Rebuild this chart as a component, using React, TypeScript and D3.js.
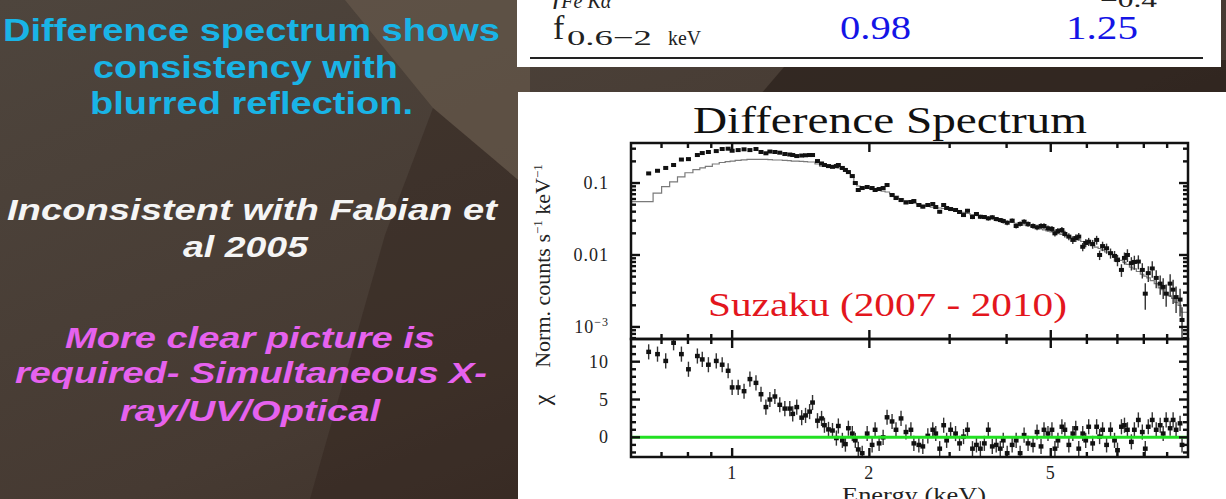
import React from 'react';
import * as d3 from 'd3';

// Difference spectrum (Suzaku 2007 - 2010): energy grid in keV
const energy = [
  0.656, 0.686, 0.715, 0.744, 0.774, 0.802, 0.839, 0.86, 0.887, 0.923,
  0.951, 0.98, 1.0, 1.031, 1.062, 1.094, 1.128, 1.157, 1.186, 1.21,
  1.241, 1.272, 1.305, 1.338, 1.358, 1.386, 1.421, 1.449, 1.479, 1.501,
  1.539, 1.571, 1.594, 1.627, 1.66, 1.693, 1.71, 1.745, 1.772, 1.799,
  1.835, 1.863, 1.891, 1.929, 1.978, 2.028, 2.059, 2.101, 2.144, 2.187,
  2.243, 2.288, 2.347, 2.406, 2.467, 2.504, 2.568, 2.62, 2.687, 2.755,
  2.797, 2.853, 2.911, 2.955, 3.015, 3.091, 3.154, 3.218, 3.283, 3.367,
  3.435, 3.504, 3.575, 3.647, 3.721, 3.796, 3.874, 3.933, 4.012, 4.114,
  4.198, 4.283, 4.37, 4.458, 4.572, 4.665, 4.76, 4.832, 4.93, 5.03,
  5.106, 5.184, 5.289, 5.369, 5.478, 5.589, 5.673, 5.759, 5.876, 5.965,
  6.055, 6.178, 6.304, 6.399, 6.496, 6.628, 6.762, 6.9, 7.004, 7.145,
  7.255, 7.364, 7.513, 7.627, 7.782, 7.939, 8.059, 8.182, 8.348, 8.517,
  8.69, 8.822, 8.956, 9.138, 9.276, 9.416, 9.607, 9.703,
];

// Normalised counts s^-1 keV^-1
const flux = [
  0.136, 0.148, 0.162, 0.178, 0.212, 0.215, 0.245, 0.261, 0.27, 0.278,
  0.297, 0.3, 0.281, 0.287, 0.294, 0.287, 0.297, 0.27, 0.259, 0.274,
  0.27, 0.264, 0.253, 0.249, 0.245, 0.237, 0.241, 0.243, 0.245, 0.245,
  0.202, 0.187, 0.178, 0.172, 0.168, 0.172, 0.178, 0.162, 0.152, 0.142,
  0.125, 0.1, 0.08, 0.0852, 0.088, 0.0852, 0.08, 0.0825, 0.0852, 0.0938,
  0.0681, 0.0619, 0.058, 0.0536, 0.0545, 0.0562, 0.0495, 0.0469, 0.0495, 0.0511,
  0.0464, 0.0399, 0.0495, 0.045, 0.0435, 0.0422, 0.0396, 0.0359, 0.0412, 0.0337,
  0.0371, 0.034, 0.0337, 0.0323, 0.0334, 0.0316, 0.0306, 0.0297, 0.0281, 0.03,
  0.0253, 0.027, 0.029, 0.027, 0.0253, 0.0242, 0.0253, 0.0253, 0.0235, 0.023,
  0.02, 0.0215, 0.0222, 0.0196, 0.018, 0.0162, 0.0172, 0.018, 0.013, 0.0147,
  0.0153, 0.0142, 0.0162, 0.01, 0.0133, 0.0124, 0.0106, 0.0097, 0.0085, 0.0062,
  0.0091, 0.01, 0.0077, 0.008, 0.0081, 0.0062, 0.0029, 0.0056, 0.0065, 0.0048,
  0.004, 0.0036, 0.0029, 0.004, 0.0033, 0.0026, 0.0024, 0.00125,
];

// Fractional 1-sigma errors on the counts
const fluxFracErr = [
  0.02, 0.02, 0.02, 0.02, 0.02, 0.02, 0.02, 0.02, 0.02, 0.02,
  0.02, 0.02, 0.02, 0.02, 0.02, 0.02, 0.02, 0.02, 0.025, 0.025,
  0.025, 0.025, 0.025, 0.025, 0.025, 0.025, 0.025, 0.025, 0.025, 0.025,
  0.03, 0.03, 0.03, 0.03, 0.03, 0.03, 0.03, 0.035, 0.035, 0.035,
  0.035, 0.04, 0.04, 0.04, 0.04, 0.04, 0.04, 0.04, 0.04, 0.04,
  0.045, 0.045, 0.045, 0.045, 0.045, 0.05, 0.05, 0.05, 0.05, 0.05,
  0.05, 0.055, 0.055, 0.055, 0.055, 0.06, 0.06, 0.06, 0.06, 0.065,
  0.065, 0.065, 0.065, 0.07, 0.07, 0.07, 0.07, 0.075, 0.075, 0.075,
  0.08, 0.08, 0.08, 0.085, 0.085, 0.09, 0.09, 0.09, 0.095, 0.095,
  0.1, 0.1, 0.1, 0.11, 0.11, 0.12, 0.12, 0.12, 0.13, 0.13,
  0.13, 0.14, 0.14, 0.15, 0.15, 0.16, 0.16, 0.17, 0.18, 0.2,
  0.19, 0.2, 0.21, 0.22, 0.22, 0.24, 0.4, 0.25, 0.26, 0.28,
  0.3, 0.32, 0.34, 0.35, 0.37, 0.4, 0.42, 0.5,
];

// Folded blurred-reflection model (histogram)
const fluxModel = [
  0.055, 0.0726, 0.0889, 0.104, 0.122, 0.139, 0.154, 0.162, 0.17, 0.184,
  0.193, 0.199, 0.202, 0.207, 0.21, 0.213, 0.213, 0.213, 0.213, 0.211,
  0.209, 0.209, 0.207, 0.2045, 0.202, 0.202, 0.2, 0.198, 0.196, 0.196,
  0.184, 0.171, 0.17, 0.167, 0.164, 0.164, 0.162, 0.156, 0.146, 0.137,
  0.121, 0.103, 0.091, 0.088, 0.085, 0.0825, 0.08, 0.0787, 0.0774, 0.075,
  0.0704, 0.066, 0.061, 0.057, 0.0545, 0.0527, 0.0511, 0.0495, 0.048, 0.0464,
  0.0457, 0.045, 0.0443, 0.0435, 0.0429, 0.0415, 0.0402, 0.039, 0.0377, 0.0365,
  0.0356, 0.0348, 0.034, 0.0332, 0.0323, 0.0316, 0.0306, 0.03, 0.0292, 0.0283,
  0.0276, 0.0268, 0.0261, 0.0253, 0.0245, 0.0237, 0.023, 0.0224, 0.0217, 0.021,
  0.0205, 0.02, 0.0193, 0.0187, 0.018, 0.0172, 0.0167, 0.0162, 0.0154, 0.0148,
  0.0142, 0.0135, 0.0129, 0.0123, 0.0117, 0.011, 0.0103, 0.0097, 0.0091, 0.0084,
  0.0079, 0.0074, 0.0068, 0.0064, 0.0059, 0.0054, 0.0051, 0.0048, 0.0044, 0.004,
  0.0035, 0.0033, 0.003, 0.0027, 0.0025, 0.0022, 0.002, 0.0016,
];

// Residuals in units of sigma
const chi = [
  11.3, 11.0, 10.1, 12.5, 11.0, 9.0, 10.75, 10.3, 9.6, 10.1,
  9.6, 8.8, 6.6, 6.6, 6.1, 7.7, 7.2, 5.7, 4.0, 5.0,
  5.4, 4.3, 3.8, 3.8, 3.1, 4.0, 2.6, 2.9, 3.4, 4.6,
  2.2, 2.5, 1.6, 1.05, 0.9, -0.1, 1.5, -0.4, -0.9, 1.2,
  0.5, -0.4, -1.6, -2.1, 0.5, -1.0, 1.0, -0.8, 0.0, 2.65,
  2.1, 1.0, 2.5, 0.7, 1.0, -0.8, -1.0, -1.2, 0.2, 1.0,
  0.5, -1.5, 1.6, -0.4, 1.0, 0.5, -0.8, 0.1, 1.0, -1.5,
  -1.0, -1.5, -0.8, 1.0, -1.2, -1.0, -1.5, -0.4, -2.1, -1.0,
  -0.4, -2.1, 0.3, -0.8, -1.0, 0.7, -1.2, 1.0, 0.5, 1.0,
  -1.5, -0.4, 1.4, 1.0, -1.0, 0.5, 1.2, -1.5, 0.5, -0.4,
  1.4, -0.8, 1.4, 0.1, 1.0, -1.0, 1.0, -0.4, -1.7, 1.4,
  1.6, 1.0, -0.6, 1.0, 2.3, 0.7, -1.5, 1.4, 2.3, 1.0,
  1.6, 0.5, 2.3, 1.2, 2.3, 1.0, 1.85, -1.0,
];

const energyTicks = [1, 2, 5];
const energyMinorTicks = [0.7, 0.8, 0.9, 3, 4, 6, 7, 8, 9];
const fluxTicks = [0.1, 0.01, 0.001];
const chiTicks = [0, 5, 10];

const slideLines = [
  { text: 'Difference spectrum shows', x: 3, y: 41, len: 497, size: 31, color: '#19b4e6', italic: false },
  { text: 'consistency with', x: 93, y: 78, len: 305, size: 31, color: '#19b4e6', italic: false },
  { text: 'blurred reflection.', x: 90, y: 114, len: 323, size: 31, color: '#19b4e6', italic: false },
  { text: 'Inconsistent with Fabian et', x: 7, y: 220, len: 490, size: 30, color: '#f5f5f5', italic: true },
  { text: 'al 2005', x: 183, y: 257, len: 125, size: 30, color: '#f5f5f5', italic: true },
  { text: 'More clear picture is', x: 65, y: 348, len: 370, size: 29, color: '#e662ee', italic: true },
  { text: 'required- Simultaneous X-', x: 15, y: 383, len: 472, size: 29, color: '#e662ee', italic: true },
  { text: 'ray/UV/Optical', x: 120, y: 421, len: 260, size: 29, color: '#e662ee', italic: true },
];

const P = { left: 631, right: 1188, top: 143, mid: 339, bottom: 457 };
const SERIF = "'Liberation Serif', 'DejaVu Serif', serif";
const SANS = "'Liberation Sans', Arial, sans-serif";

export default function App() {
  const x = d3.scaleLog().domain([0.6, 10]).range([P.left, P.right]);
  const yF = d3.scaleLog().domain([6.8e-4, 0.36]).range([P.mid, P.top]);
  const yC = d3.scaleLinear().domain([-2.6, 13]).range([P.bottom, P.mid]);

  const [fMin, fMax] = yF.domain();
  const fluxMinor: number[] = [];
  [-4, -3, -2, -1].forEach((e) => {
    for (let m = 2; m <= 9; m++) {
      const v = m * Math.pow(10, e);
      if (v > fMin && v < fMax) fluxMinor.push(v);
    }
  });
  const chiMinor = d3.range(-2, 13).filter((v) => !chiTicks.includes(v));

  const last = energy.length - 1;
  const modelPts: [number, number][] = [
    [0.6, fluxModel[0]],
    ...energy.map((e, i) => [e, fluxModel[i]] as [number, number]),
    [10, fluxModel[last]],
  ];
  const modelPath =
    d3
      .line<[number, number]>()
      .x((d) => x(d[0]))
      .y((d) => yF(d[1]))
      .curve(d3.curveStep)(modelPts) || '';

  const tick = (key: string, x1: number, y1: number, x2: number, y2: number) => (
    <line key={key} x1={x1} y1={y1} x2={x2} y2={y2} stroke="#111" strokeWidth={2.4} />
  );

  const ticks: React.ReactNode[] = [];
  // energy ticks on each horizontal frame edge
  const hEdges: [number, number][] = [
    [P.top, 1],
    [P.mid, -1],
    [P.mid, 1],
    [P.bottom, -1],
  ];
  hEdges.forEach(([yy, dir], k) => {
    energyTicks.forEach((v) => ticks.push(tick(`xM${k}-${v}`, x(v), yy, x(v), yy + dir * 9)));
    energyMinorTicks.forEach((v) => ticks.push(tick(`xm${k}-${v}`, x(v), yy, x(v), yy + dir * 5)));
  });
  [
    [P.left, 1],
    [P.right, -1],
  ].forEach(([xx, dir], k) => {
    fluxTicks.forEach((v) => ticks.push(tick(`fM${k}-${v}`, xx, yF(v), xx + dir * 9, yF(v))));
    fluxMinor.forEach((v) => ticks.push(tick(`fm${k}-${v}`, xx, yF(v), xx + dir * 5, yF(v))));
    chiTicks.forEach((v) => ticks.push(tick(`cM${k}-${v}`, xx, yC(v), xx + dir * 9, yC(v))));
    chiMinor.forEach((v) => ticks.push(tick(`cm${k}-${v}`, xx, yC(v), xx + dir * 5, yC(v))));
  });

  return (
    <svg
      width={1226}
      height={499}
      viewBox="0 0 1226 499"
      style={{ position: 'absolute', left: 0, top: 0, display: 'block' }}
    >
      <defs>
        <linearGradient id="slideBg" x1="0" y1="0" x2="1" y2="1">
          <stop offset="0" stopColor="#4e453d" />
          <stop offset="0.55" stopColor="#463a32" />
          <stop offset="1" stopColor="#352820" />
        </linearGradient>
        <clipPath id="topClip">
          <rect x={P.left} y={P.top} width={P.right - P.left} height={P.mid - P.top} />
        </clipPath>
        <clipPath id="botClip">
          <rect x={P.left} y={P.mid} width={P.right - P.left} height={P.bottom - P.mid} />
        </clipPath>
      </defs>

      {/* slide background */}
      <rect x={0} y={0} width={1226} height={499} fill="url(#slideBg)" />
      <polygon points="345,0 530,0 530,190 433,108" fill="#6e5e50" opacity={0.55} />
      <polygon points="433,108 530,190 530,499 310,499 385,235" fill="#2a1e18" opacity={0.35} />
      <polygon points="790,60 1226,60 1226,95 760,95" fill="#241a15" opacity={0.6} />

      {/* slide text */}
      {slideLines.map((l) => (
        <text
          key={l.text}
          x={l.x}
          y={l.y}
          fill={l.color}
          fontFamily={SANS}
          fontWeight="bold"
          fontStyle={l.italic ? 'italic' : 'normal'}
          fontSize={l.size}
          textLength={l.len}
          lengthAdjust="spacingAndGlyphs"
        >
          {l.text}
        </text>
      ))}

      {/* table excerpt */}
      <rect x={517} y={-2} width={704} height={69} fill="#ffffff" />
      <text x={553} y={3} fontFamily={SERIF} fontStyle="italic" fontSize={30} fill="#222">
        f<tspan fontSize={20} dy={5}>Fe Kα</tspan>
      </text>
      <text x={1100} y={7} fontFamily={SERIF} fontSize={20} fill="#222" textLength={57} lengthAdjust="spacingAndGlyphs">
        −0.4
      </text>
      <text x={553} y={39} fontFamily={SERIF} fontSize={34} fill="#222">
        f
      </text>
      <text x={567} y={45} fontFamily={SERIF} fontSize={22} fill="#222" textLength={85} lengthAdjust="spacingAndGlyphs">
        0.6−2
      </text>
      <text x={668} y={45} fontFamily={SERIF} fontSize={20} fill="#222" textLength={33} lengthAdjust="spacingAndGlyphs">
        keV
      </text>
      <text x={840} y={39} fontFamily={SERIF} fontSize={34} fill="#1414e6" textLength={71} lengthAdjust="spacingAndGlyphs">
        0.98
      </text>
      <text x={1066} y={39} fontFamily={SERIF} fontSize={34} fill="#1414e6" textLength={72} lengthAdjust="spacingAndGlyphs">
        1.25
      </text>
      <line x1={530} y1={58} x2={1203} y2={58} stroke="#222" strokeWidth={2} />

      {/* chart panel */}
      <rect x={518} y={92} width={708} height={407} fill="#ffffff" />
      <text x={693} y={133} fontFamily={SERIF} fontSize={38} fill="#111" textLength={394} lengthAdjust="spacingAndGlyphs">
        Difference Spectrum
      </text>

      {/* spectrum: model histogram, data with error bars */}
      <g clipPath="url(#topClip)">
        <path d={modelPath} fill="none" stroke="#7a7a7a" strokeWidth={1.2} />
        {energy.map((e, i) => {
          const lo = Math.max(flux[i] * (1 - fluxFracErr[i]), fMin * 0.5);
          const hi = flux[i] * (1 + fluxFracErr[i]);
          return (
            <g key={`s${i}`}>
              <line x1={x(e)} x2={x(e)} y1={yF(lo)} y2={yF(hi)} stroke="#333" strokeWidth={1.4} />
              <rect x={x(e) - 2.5} y={yF(flux[i]) - 2} width={5} height={4} fill="#111" />
            </g>
          );
        })}
      </g>
      <text x={708} y={316} fontFamily={SERIF} fontSize={33} fill="#e3161d" textLength={359} lengthAdjust="spacingAndGlyphs">
        Suzaku (2007 - 2010)
      </text>

      {/* residuals */}
      <g clipPath="url(#botClip)">
        {energy.map((e, i) => (
          <g key={`r${i}`}>
            <line x1={x(e)} x2={x(e)} y1={yC(chi[i] - 1)} y2={yC(chi[i] + 1)} stroke="#333" strokeWidth={1.4} />
            <rect x={x(e) - 2.4} y={yC(chi[i]) - 2.2} width={4.8} height={4.4} fill="#111" />
          </g>
        ))}
        <line x1={P.left} x2={P.right} y1={yC(0)} y2={yC(0)} stroke="#22e022" strokeWidth={3} />
      </g>

      {/* frames and ticks */}
      <rect x={P.left} y={P.top} width={P.right - P.left} height={P.mid - P.top} fill="none" stroke="#111" strokeWidth={2.5} />
      <rect x={P.left} y={P.mid} width={P.right - P.left} height={P.bottom - P.mid} fill="none" stroke="#111" strokeWidth={2.5} />
      {ticks}

      {/* tick labels */}
      <g fontFamily={SERIF} fontSize={18} fill="#222" letterSpacing={1}>
        <text x={609} y={yF(0.1) + 6} textAnchor="end">0.1</text>
        <text x={609} y={yF(0.01) + 6} textAnchor="end">0.01</text>
        <text x={609} y={yF(0.001) + 6} textAnchor="end">
          10<tspan fontSize={12} dy={-7}>−3</tspan>
        </text>
        {chiTicks.map((v) => (
          <text key={`cl${v}`} x={609} y={yC(v) + 6} textAnchor="end">
            {v}
          </text>
        ))}
        {energyTicks.map((v) => (
          <text key={`xl${v}`} x={x(v)} y={479} textAnchor="middle">
            {v}
          </text>
        ))}
      </g>

      {/* axis titles */}
      <text x={842} y={502} fontFamily={SERIF} fontSize={22} fill="#222" textLength={144} lengthAdjust="spacingAndGlyphs">
        Energy (keV)
      </text>
      <text
        transform="translate(550,266) rotate(-90)"
        textAnchor="middle"
        fontFamily={SERIF}
        fontSize={22}
        fill="#222"
      >
        Norm. counts s<tspan fontSize={13} dy={-8}>−1</tspan>
        <tspan dy={8}> keV</tspan>
        <tspan fontSize={13} dy={-8}>−1</tspan>
      </text>
      <text transform="translate(550,400) rotate(-90)" textAnchor="middle" fontFamily={SERIF} fontSize={24} fill="#222">
        χ
      </text>
    </svg>
  );
}
